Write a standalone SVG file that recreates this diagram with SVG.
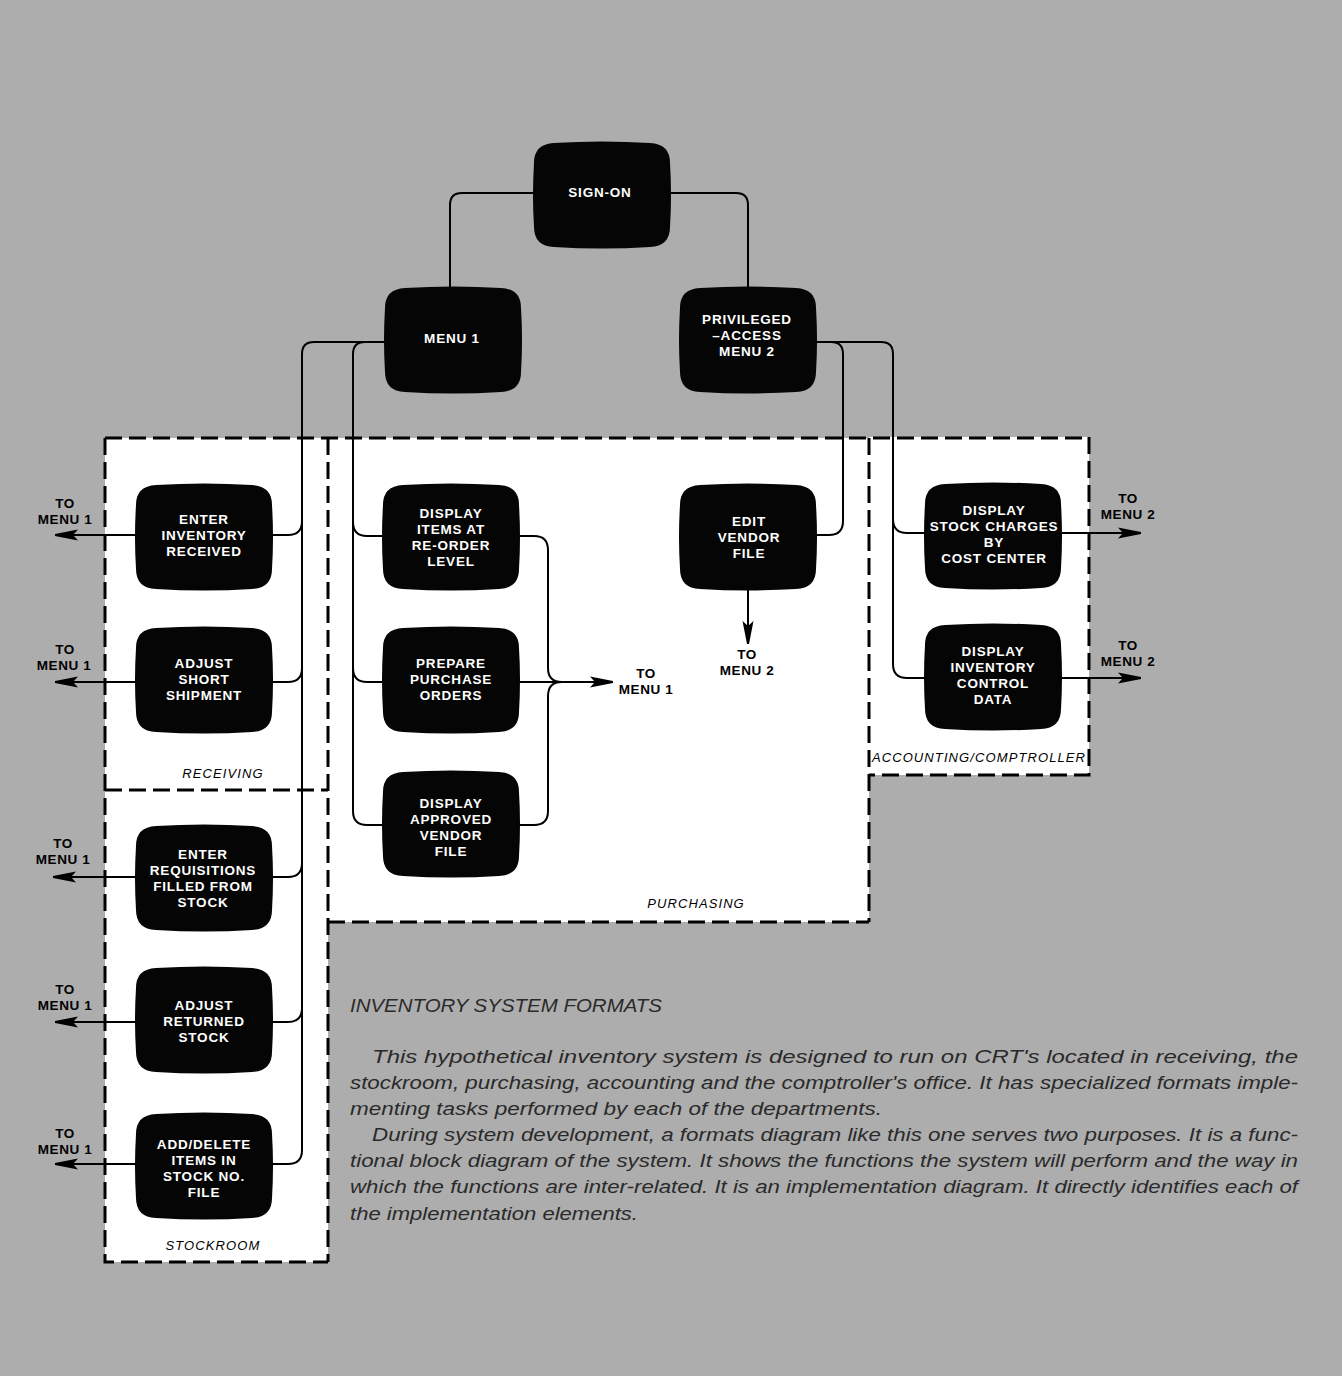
<svg xmlns="http://www.w3.org/2000/svg" xmlns:xlink="http://www.w3.org/1999/xlink" width="1342" height="1376" viewBox="0 0 1342 1376">
<style>
.nt{font-family:"Liberation Sans",Arial,sans-serif;font-weight:bold;font-size:13.5px;letter-spacing:0.8px;fill:#fff;text-anchor:middle}
.lt{font-family:"Liberation Sans",Arial,sans-serif;font-weight:bold;font-size:13.5px;letter-spacing:0.6px;fill:#000;text-anchor:middle}
.dl{font-family:"Liberation Sans",Arial,sans-serif;font-style:italic;font-size:13px;letter-spacing:1.1px;fill:#000;text-anchor:middle}
.dash{fill:none;stroke:#000;stroke-width:3;stroke-dasharray:17 7}
.con{fill:none;stroke:#000;stroke-width:2}
.crt{fill:#050505}
.body{font-family:"Liberation Sans",Arial,sans-serif;font-style:italic;font-size:19px;fill:#2a2a2a}
</style>
<defs>
<path id="crt" class="crt" d="M20,0 Q68,-3 116,0 Q136,1 136,20 Q138,52 136,84 Q136,103 116,104 Q68,107 20,104 Q0,103 0,84 Q-2,52 0,20 Q0,1 20,0 Z"/>
<marker id="arr" markerUnits="userSpaceOnUse" markerWidth="24" markerHeight="14" refX="23" refY="7" orient="auto" viewBox="0 0 24 14">
<path d="M0,1.5 L23,6 L23,8 L0,12.5 L5,7 Z" fill="#000"/>
</marker>
</defs>
<rect x="0" y="0" width="1342" height="1376" fill="#adadad"/>
<g id="departments">
<rect x="105" y="438" width="223" height="824" fill="#fff"/>
<rect x="328" y="438" width="541" height="484" fill="#fff"/>
<rect x="869" y="437" width="220" height="338" fill="#fff"/>
<path class="dash" d="M105,438 H1089"/>
<path class="dash" d="M105,438 V1262 H328"/>
<path class="dash" d="M328,438 V1262"/>
<path class="dash" d="M105,790 H328"/>
<path class="dash" d="M328,922 H869"/>
<path class="dash" d="M869,438 V922"/>
<path class="dash" d="M1089,437 V775 H869"/>
<text class="dl" x="223" y="778">RECEIVING</text>
<text class="dl" x="213" y="1250">STOCKROOM</text>
<text class="dl" x="696" y="908">PURCHASING</text>
<text class="dl" x="979" y="762">ACCOUNTING/COMPTROLLER</text>
</g>
<g id="connectors">
<path class="con" d="M534,193 H462 Q450,193 450,205 V288"/>
<path class="con" d="M670,193 H736 Q748,193 748,205 V288"/>
<path class="con" d="M385,342 H314 Q302,342 302,354 V1150 Q302,1164 288,1164 H272"/>
<path class="con" d="M272,535 H288 Q302,535 302,521"/>
<path class="con" d="M272,682 H288 Q302,682 302,668"/>
<path class="con" d="M272,877 H288 Q302,877 302,863"/>
<path class="con" d="M272,1022 H288 Q302,1022 302,1008"/>
<path class="con" marker-end="url(#arr)" d="M136,535 H55"/>
<path class="con" marker-end="url(#arr)" d="M136,682 H55"/>
<path class="con" marker-end="url(#arr)" d="M136,877 H53"/>
<path class="con" marker-end="url(#arr)" d="M136,1022 H55"/>
<path class="con" marker-end="url(#arr)" d="M136,1164 H55"/>
<path class="con" d="M385,342 H365 Q353,342 353,354 V811 Q353,825 367,825 H383"/>
<path class="con" d="M353,522 Q353,536 367,536 H383"/>
<path class="con" d="M353,668 Q353,682 367,682 H383"/>
<path class="con" d="M520,536 H534 Q548,536 548,550 V668 Q548,682 562,682"/>
<path class="con" d="M520,825 H534 Q548,825 548,811 V696 Q548,682 562,682"/>
<path class="con" marker-end="url(#arr)" d="M520,682 H613"/>
<path class="con" d="M815,342 H831 Q843,342 843,354 V521 Q843,535 829,535 H815"/>
<path class="con" marker-end="url(#arr)" d="M748,590 V644"/>
<path class="con" d="M815,342 H881 Q893,342 893,354 V664 Q893,678 907,678 H925"/>
<path class="con" d="M893,519 Q893,533 907,533 H925"/>
<path class="con" marker-end="url(#arr)" d="M1062,533 H1141"/>
<path class="con" marker-end="url(#arr)" d="M1062,678 H1141"/>
</g>
<g id="labels">
<text class="lt" x="65" y="508">TO</text><text class="lt" x="65" y="524">MENU 1</text>
<text class="lt" x="65" y="654">TO</text><text class="lt" x="64" y="670">MENU 1</text>
<text class="lt" x="63" y="848">TO</text><text class="lt" x="63" y="864">MENU 1</text>
<text class="lt" x="65" y="994">TO</text><text class="lt" x="65" y="1010">MENU 1</text>
<text class="lt" x="65" y="1138">TO</text><text class="lt" x="65" y="1154">MENU 1</text>
<text class="lt" x="646" y="678">TO</text><text class="lt" x="646" y="694">MENU 1</text>
<text class="lt" x="747" y="659">TO</text><text class="lt" x="747" y="675">MENU 2</text>
<text class="lt" x="1128" y="503">TO</text><text class="lt" x="1128" y="519">MENU 2</text>
<text class="lt" x="1128" y="650">TO</text><text class="lt" x="1128" y="666">MENU 2</text>
</g>
<g id="node-sign-on"><use xlink:href="#crt" href="#crt" x="534" y="143"/><text class="nt" x="600" y="197">SIGN-ON</text></g>
<g id="node-menu-1"><use xlink:href="#crt" href="#crt" x="385" y="288"/><text class="nt" x="452" y="343">MENU 1</text></g>
<g id="node-menu-2"><use xlink:href="#crt" href="#crt" x="680" y="288"/><text class="nt" x="747" y="324">PRIVILEGED</text><text class="nt" x="747" y="340">–ACCESS</text><text class="nt" x="747" y="356">MENU 2</text></g>
<g id="node-enter-inventory"><use xlink:href="#crt" href="#crt" x="136" y="485"/><text class="nt" x="204" y="524">ENTER</text><text class="nt" x="204" y="540">INVENTORY</text><text class="nt" x="204" y="556">RECEIVED</text></g>
<g id="node-adjust-short"><use xlink:href="#crt" href="#crt" x="136" y="628"/><text class="nt" x="204" y="668">ADJUST</text><text class="nt" x="204" y="684">SHORT</text><text class="nt" x="204" y="700">SHIPMENT</text></g>
<g id="node-enter-requisitions"><use xlink:href="#crt" href="#crt" x="136" y="826"/><text class="nt" x="203" y="859">ENTER</text><text class="nt" x="203" y="875">REQUISITIONS</text><text class="nt" x="203" y="891">FILLED FROM</text><text class="nt" x="203" y="907">STOCK</text></g>
<g id="node-adjust-returned"><use xlink:href="#crt" href="#crt" x="136" y="968"/><text class="nt" x="204" y="1010">ADJUST</text><text class="nt" x="204" y="1026">RETURNED</text><text class="nt" x="204" y="1042">STOCK</text></g>
<g id="node-add-delete"><use xlink:href="#crt" href="#crt" x="136" y="1114"/><text class="nt" x="204" y="1149">ADD/DELETE</text><text class="nt" x="204" y="1165">ITEMS IN</text><text class="nt" x="204" y="1181">STOCK NO.</text><text class="nt" x="204" y="1197">FILE</text></g>
<g id="node-display-items"><use xlink:href="#crt" href="#crt" x="383" y="485"/><text class="nt" x="451" y="518">DISPLAY</text><text class="nt" x="451" y="534">ITEMS AT</text><text class="nt" x="451" y="550">RE-ORDER</text><text class="nt" x="451" y="566">LEVEL</text></g>
<g id="node-prepare-po"><use xlink:href="#crt" href="#crt" x="383" y="628"/><text class="nt" x="451" y="668">PREPARE</text><text class="nt" x="451" y="684">PURCHASE</text><text class="nt" x="451" y="700">ORDERS</text></g>
<g id="node-display-approved"><use xlink:href="#crt" href="#crt" x="383" y="772"/><text class="nt" x="451" y="808">DISPLAY</text><text class="nt" x="451" y="824">APPROVED</text><text class="nt" x="451" y="840">VENDOR</text><text class="nt" x="451" y="856">FILE</text></g>
<g id="node-edit-vendor"><use xlink:href="#crt" href="#crt" x="680" y="485"/><text class="nt" x="749" y="526">EDIT</text><text class="nt" x="749" y="542">VENDOR</text><text class="nt" x="749" y="558">FILE</text></g>
<g id="node-stock-charges"><use xlink:href="#crt" href="#crt" x="925" y="484"/><text class="nt" x="994" y="515">DISPLAY</text><text class="nt" x="994" y="531">STOCK CHARGES</text><text class="nt" x="994" y="547">BY</text><text class="nt" x="994" y="563">COST CENTER</text></g>
<g id="node-inventory-control"><use xlink:href="#crt" href="#crt" x="925" y="625"/><text class="nt" x="993" y="656">DISPLAY</text><text class="nt" x="993" y="672">INVENTORY</text><text class="nt" x="993" y="688">CONTROL</text><text class="nt" x="993" y="704">DATA</text></g>
<g id="caption">
<text class="body" x="350" y="1012" textLength="312" lengthAdjust="spacingAndGlyphs">INVENTORY SYSTEM FORMATS</text>
<text class="body" x="372" y="1063" textLength="926" lengthAdjust="spacingAndGlyphs">This hypothetical inventory system is designed to run on CRT's located in receiving, the</text>
<text class="body" x="350" y="1089" textLength="948" lengthAdjust="spacingAndGlyphs">stockroom, purchasing, accounting and the comptroller's office. It has specialized formats imple-</text>
<text class="body" x="350" y="1115" textLength="532" lengthAdjust="spacingAndGlyphs">menting tasks performed by each of the departments.</text>
<text class="body" x="372" y="1141" textLength="926" lengthAdjust="spacingAndGlyphs">During system development, a formats diagram like this one serves two purposes. It is a func-</text>
<text class="body" x="350" y="1167" textLength="948" lengthAdjust="spacingAndGlyphs">tional block diagram of the system. It shows the functions the system will perform and the way in</text>
<text class="body" x="350" y="1193" textLength="948" lengthAdjust="spacingAndGlyphs">which the functions are inter-related. It is an implementation diagram. It directly identifies each of</text>
<text class="body" x="350" y="1220" textLength="288" lengthAdjust="spacingAndGlyphs">the implementation elements.</text>
</g>
</svg>
